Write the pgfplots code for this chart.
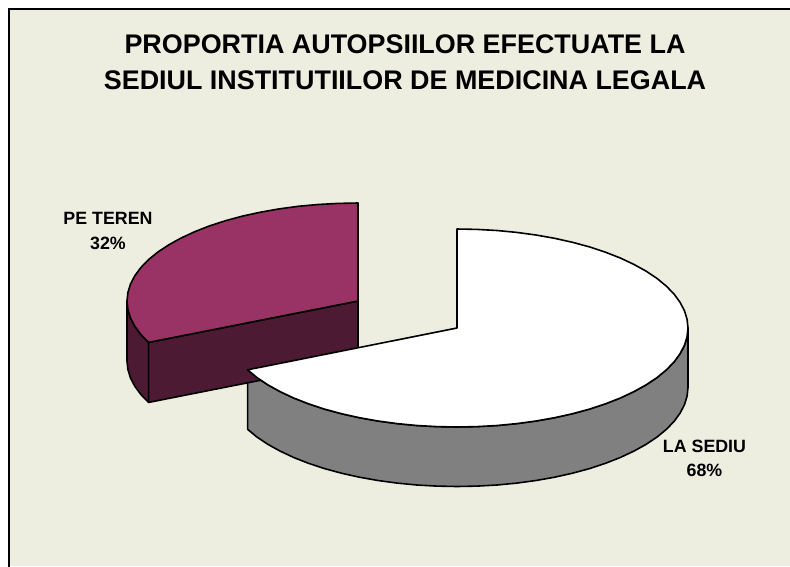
\documentclass[border=0pt]{standalone}
\usepackage{fontspec}
\setmainfont{Liberation Sans}
\usepackage{pgfplots}
\pgfplotsset{compat=1.18}
\definecolor{bgc}{RGB}{238,238,224}
\definecolor{maroon}{RGB}{153,51,102}
\definecolor{darkm}{RGB}{77,26,51}
\definecolor{sideg}{RGB}{128,128,128}
\begin{document}
\begin{tikzpicture}
\begin{axis}[
  at={(0pt,0pt)}, anchor=south west,
  width=790pt, height=566pt, scale only axis,
  xmin=0, xmax=790, ymin=0, ymax=566, y dir=reverse,
  hide axis, clip=true,
]
% page and panel
\addplot[fill=white, draw=white, line width=0pt] coordinates {(0,0) (790,0) (790,566) (0,566)} --cycle;
\addplot[fill=bgc, draw=none] coordinates {(8,8) (790,8) (790,566) (8,566)} --cycle;
\addplot[black, line width=2.4pt] coordinates {(8.7,570) (8.7,9) (795,9)};
% LA SEDIU side wall
\addplot[fill=sideg, draw=black, line width=1.6pt, line join=round] coordinates {
(688,328)(687.1,336.6)(684.5,345.2)(680.1,353.6)(674.1,361.9)(666.4,369.8)(657.1,377.5)(646.2,384.8)(633.9,391.6)(620.3,398)(605.5,403.8)(589.5,409.1)(572.5,413.7)(554.6,417.7)(536,421)(516.8,423.6)(497.1,425.5)(477.1,426.6)(457,427)(436.9,426.6)(416.9,425.5)(397.2,423.6)(378,421)(359.4,417.7)(341.5,413.7)(324.5,409.1)(308.5,403.8)(293.7,398)(280.1,391.6)(267.8,384.8)(256.9,377.5)(247.6,369.8)
(247.6,429.3)(256.9,437)(267.8,444.3)(280.1,451.1)(293.7,457.5)(308.5,463.3)(324.5,468.6)(341.5,473.2)(359.4,477.2)(378,480.5)(397.2,483.1)(416.9,485)(436.9,486.1)(457,486.5)(477.1,486.1)(497.1,485)(516.8,483.1)(536,480.5)(554.6,477.2)(572.5,473.2)(589.5,468.6)(605.5,463.3)(620.3,457.5)(633.9,451.1)(646.2,444.3)(657.1,437)(666.4,429.3)(674.1,421.4)(680.1,413.1)(684.5,404.7)(687.1,396.1)(688,387.5)
} --cycle;
% PE TEREN outer wall
\addplot[fill=darkm, draw=black, line width=1.6pt, line join=round] coordinates {
(148.6,342.4)(140.9,334.5)(134.9,326.4)(130.5,318)(127.9,309.5)(127,301)
(127,361)(127.9,369.5)(130.5,378)(134.9,386.4)(140.9,394.5)(148.6,402.4)
} --cycle;
% PE TEREN cut wall
\addplot[fill=darkm, draw=black, line width=1.6pt, line join=round] coordinates {
(148.6,342.4)(358,301)(358,361)(148.6,402.4)
} --cycle;
% PE TEREN top
\addplot[fill=maroon, draw=black, line width=1.6pt, line join=round] coordinates {
(358,301)(148.6,342.4)(140.9,334.5)(134.9,326.4)(130.5,318)(127.9,309.5)(127,301)(127.9,292.5)(130.5,284)(134.9,275.6)(140.9,267.5)(148.6,259.6)(157.9,252)(168.8,244.8)(181.1,238)(194.7,231.7)(209.5,225.9)(225.5,220.7)(242.5,216.1)(260.4,212.2)(279,208.9)(298.2,206.3)(317.9,204.5)(337.9,203.4)(358,203)
} --cycle;
% LA SEDIU top
\addplot[fill=white, draw=black, line width=1.6pt, line join=round] coordinates {
(457,328)(457,229)(477.1,229.4)(497.1,230.5)(516.8,232.4)(536,235)(554.6,238.3)(572.5,242.3)(589.5,246.9)(605.5,252.2)(620.3,258)(633.9,264.4)(646.2,271.2)(657.1,278.5)(666.4,286.2)(674.1,294.1)(680.1,302.4)(684.5,310.8)(687.1,319.4)(688,328)(687.1,336.6)(684.5,345.2)(680.1,353.6)(674.1,361.9)(666.4,369.8)(657.1,377.5)(646.2,384.8)(633.9,391.6)(620.3,398)(605.5,403.8)(589.5,409.1)(572.5,413.7)(554.6,417.7)(536,421)(516.8,423.6)(497.1,425.5)(477.1,426.6)(457,427)(436.9,426.6)(416.9,425.5)(397.2,423.6)(378,421)(359.4,417.7)(341.5,413.7)(324.5,409.1)(308.5,403.8)(293.7,398)(280.1,391.6)(267.8,384.8)(256.9,377.5)(247.6,369.8)
} --cycle;
\node[font=\bfseries\fontsize{26.9}{36.5}\selectfont, align=center, anchor=center] at (axis cs:405,62)
 {PROPORTIA AUTOPSIILOR EFECTUATE LA\\SEDIUL INSTITUTIILOR DE MEDICINA LEGALA};
\node[font=\bfseries\fontsize{17.8}{25}\selectfont, align=center, anchor=center] at (axis cs:108,231)
 {PE TEREN\\32\%};
\node[font=\bfseries\fontsize{17.8}{24}\selectfont, align=center, anchor=center] at (axis cs:704.5,458.5)
 {LA SEDIU\\68\%};
\end{axis}
\end{tikzpicture}
\end{document}
